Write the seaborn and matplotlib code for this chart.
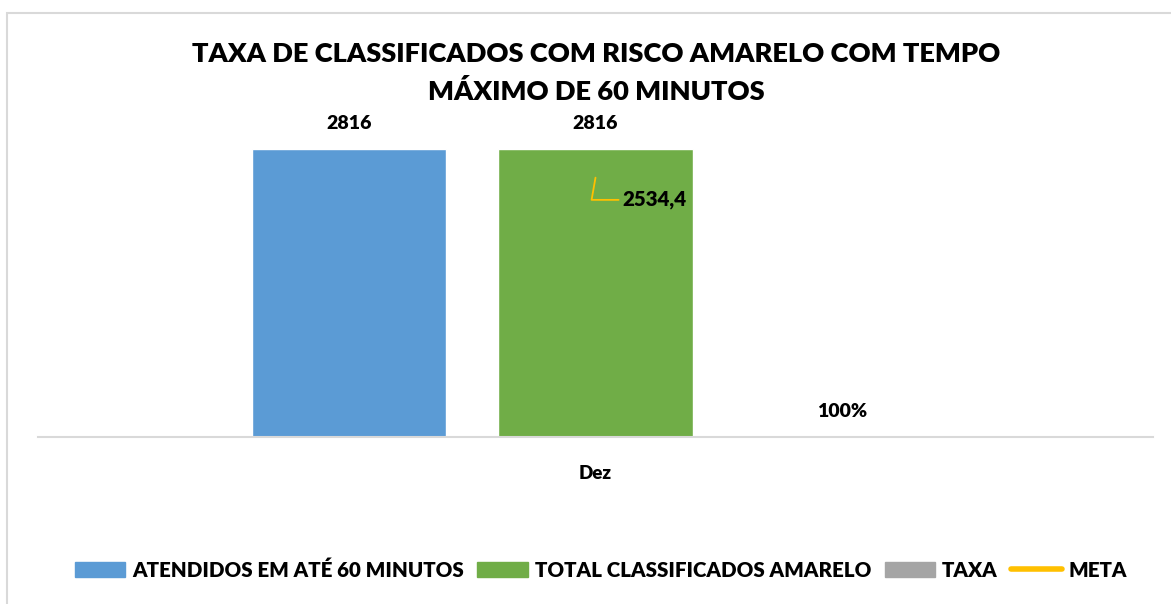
import pandas as pd
import matplotlib
matplotlib.use("Agg")
import matplotlib.pyplot as plt
import matplotlib.patches as mpatches
from matplotlib.lines import Line2D
import seaborn as sns

# dados
categorias = ["Dez"]
series = ["ATENDIDOS EM ATÉ 60 MINUTOS", "TOTAL CLASSIFICADOS AMARELO", "TAXA"]
valores = [2816, 2816, 1.0]
rotulos = ["2816", "2816", "100%"]
meta = [2534.4]
cores = ["#5b9bd5", "#70ad47", "#a5a5a5"]
cor_meta = "#ffc000"

df = pd.DataFrame({"mes": categorias * len(series), "serie": series, "valor": valores})

sns.set_theme(style="white")
plt.rcParams["font.family"] = ["Lato", "DejaVu Sans"]
plt.rcParams["text.color"] = "black"
plt.rcParams["xtick.color"] = "black"

fig = plt.figure(figsize=(11.71, 6.04), dpi=100)
W, H = 1171, 604
ax = fig.add_axes([38 / W, (H - 437) / H, (1153 - 38) / W, (437 - 130) / H])

sns.barplot(data=df, x="mes", y="valor", hue="serie", palette=cores,
            width=0.663, gap=0.21, ax=ax, legend=False, saturation=1)
ax.set_ylim(0, 3000)
ax.set_xlim(-0.5, 0.5)

# rótulos dos dados
for bar, txt in zip(ax.patches, rotulos):
    x = bar.get_x() + bar.get_width() / 2
    ax.annotate(txt, (x, bar.get_height()), xytext=(0, 12), textcoords="offset points",
                ha="center", va="bottom", fontsize=14, fontweight="heavy", color="black")

# meta (um único ponto, só o rótulo com linha de chamada)
ax.plot([0], meta, color=cor_meta, lw=3)
ax.annotate("2534,4", xy=(0, meta[0]), xytext=(19, -16), textcoords="offset points",
            ha="left", va="center", fontsize=14.8, fontweight="heavy", color="black",
            arrowprops=dict(arrowstyle="-", color=cor_meta, lw=1.3,
                            connectionstyle="angle,angleA=0,angleB=80,rad=0",
                            shrinkA=0, shrinkB=0))

for s in ["top", "right", "left"]:
    ax.spines[s].set_visible(False)
ax.spines["bottom"].set_color("#d9d9d9")
ax.spines["bottom"].set_linewidth(1.5)
ax.set_yticks([])
ax.set_xlabel("")
ax.set_ylabel("")
ax.tick_params(axis="x", length=0, pad=20)
for t in ax.get_xticklabels():
    t.set_fontsize(13.5)
    t.set_fontweight("heavy")

fig.text(596 / W, 1 - 73 / H, "TAXA DE CLASSIFICADOS COM RISCO AMARELO COM TEMPO\nMÁXIMO DE 60 MINUTOS",
         ha="center", va="center", fontsize=19.6, fontweight="heavy", linespacing=1.62)

handles = [mpatches.Patch(color=c, label=l) for c, l in zip(cores, series)]
handles.append(Line2D([0], [0], color=cor_meta, lw=4, solid_capstyle="round", label="META"))
fig.legend(handles=handles, loc="center", bbox_to_anchor=(601 / W, 1 - 570 / H), ncol=4,
           frameon=False, prop={"size": 14.8, "weight": "heavy"}, handlelength=2.45,
           handleheight=0.8, handletextpad=0.35, columnspacing=0.65)

# moldura
fig.patches.append(mpatches.Rectangle((7 / W, -0.1), 1.2, 1 - 13 / H + 0.1, transform=fig.transFigure,
                                      fill=False, edgecolor="#d9d9d9", lw=1.5))

fig.savefig("out.png", dpi=100)
